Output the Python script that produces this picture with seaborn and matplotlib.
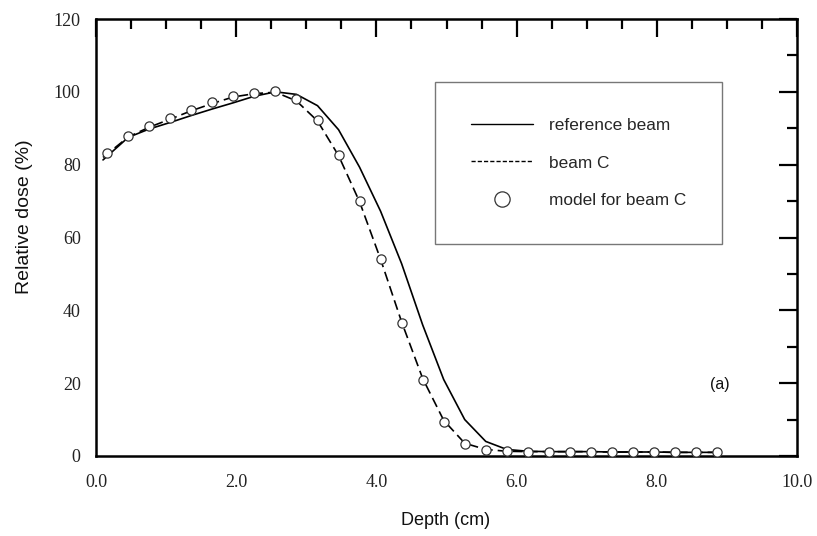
import matplotlib
matplotlib.use("Agg")
import matplotlib.pyplot as plt
from matplotlib.lines import Line2D
from matplotlib.ticker import MultipleLocator
import seaborn as sns
import pandas as pd

# ---- data ----
ref_depth = [0.10, 0.46, 0.76, 1.06, 1.36, 1.66, 1.96, 2.26, 2.56, 2.86, 3.16, 3.46,
             3.76, 4.06, 4.36, 4.66, 4.96, 5.26, 5.56, 5.86, 6.16, 6.46, 6.76, 7.06,
             7.36, 7.66, 7.96, 8.26, 8.56, 8.86]
ref_dose = [81.3, 87.5, 89.8, 91.6, 93.5, 95.3, 97.0, 98.8, 100.0, 99.3, 96.2, 89.6,
            79.3, 67.2, 52.8, 36.0, 21.0, 10.0, 4.0, 1.8, 1.3, 1.2, 1.2, 1.2,
            1.1, 1.1, 1.1, 1.0, 1.0, 1.0]

c_depth = [0.10, 0.46, 0.76, 1.06, 1.36, 1.66, 1.96, 2.26, 2.56, 2.86, 3.16, 3.46,
           3.76, 4.06, 4.36, 4.66, 4.96, 5.26, 5.56, 5.86, 6.16, 6.46, 6.76, 7.06,
           7.36, 7.66, 7.96, 8.26, 8.56, 8.86]
c_dose = [82.0, 87.6, 90.3, 92.5, 94.8, 96.8, 98.6, 99.5, 99.9, 97.5, 92.0, 82.5,
          69.8, 54.0, 36.8, 21.3, 9.8, 3.5, 1.8, 1.3, 1.2, 1.2, 1.2, 1.2,
          1.1, 1.1, 1.1, 1.0, 1.0, 1.0]

model_depth = [0.16, 0.46, 0.76, 1.06, 1.36, 1.66, 1.96, 2.26, 2.56, 2.86, 3.16, 3.46,
               3.76, 4.06, 4.36, 4.66, 4.96, 5.26, 5.56, 5.86, 6.16, 6.46, 6.76, 7.06,
               7.36, 7.66, 7.96, 8.26, 8.56, 8.86]
model_dose = [83.3, 87.9, 90.6, 92.7, 95.0, 97.1, 98.9, 99.7, 100.2, 98.1, 92.3, 82.7,
              70.1, 54.0, 36.5, 20.9, 9.4, 3.2, 1.6, 1.3, 1.2, 1.2, 1.2, 1.2,
              1.1, 1.1, 1.1, 1.0, 1.0, 1.0]

labels = ["reference beam", "beam C", "model for beam C"]
x_ticks = [0.0, 2.0, 4.0, 6.0, 8.0, 10.0]
y_ticks = [0, 20, 40, 60, 80, 100, 120]

ref_df = pd.DataFrame({"depth": ref_depth, "dose": ref_dose})
c_df = pd.DataFrame({"depth": c_depth, "dose": c_dose})
m_df = pd.DataFrame({"depth": model_depth, "dose": model_dose})

sns.set_theme(style="white")
plt.rcParams["font.family"] = ["Liberation Sans", "DejaVu Sans"]

fig = plt.figure(figsize=(8.17, 5.36), dpi=100)
ax = fig.add_axes([96 / 817, 1 - 456 / 536, 701 / 817, 437 / 536])

sns.lineplot(data=ref_df, x="depth", y="dose", ax=ax, color="black", lw=1.2,
             estimator=None, sort=False)
sns.lineplot(data=c_df, x="depth", y="dose", ax=ax, color="black", lw=1.2,
             linestyle=(0, (6, 3)), estimator=None, sort=False)
sns.scatterplot(data=m_df, x="depth", y="dose", ax=ax, marker="o", s=44,
                facecolor="white", edgecolor="#333333", linewidth=0.9, zorder=5)

ax.set_xlim(0, 10)
ax.set_ylim(0, 120)
ax.set_xticks(x_ticks)
ax.set_xticklabels([f"{v:.1f}" for v in x_ticks])
ax.set_yticks(y_ticks)
ax.set_yticklabels([str(v) for v in y_ticks])
ax.xaxis.set_minor_locator(MultipleLocator(0.5))
ax.yaxis.set_minor_locator(MultipleLocator(10))

ax.tick_params(which="both", direction="in", top=True, right=True, width=1.6,
               color="black")
ax.tick_params(which="major", length=13)
ax.tick_params(axis="y", which="major", pad=11)
ax.tick_params(axis="x", which="major", pad=13)
ax.tick_params(which="minor", length=7)
for lab in ax.get_xticklabels() + ax.get_yticklabels():
    lab.set_family(["Liberation Serif", "DejaVu Serif"])
    lab.set_fontsize(13)
    lab.set_color("#222222")

for sp in ax.spines.values():
    sp.set_visible(True)
    sp.set_color("black")
    sp.set_linewidth(1.8)

ax.set_xlabel("Depth (cm)", fontsize=13, color="#111111")
ax.set_ylabel("Relative dose (%)", fontsize=14, color="#111111")
ax.xaxis.set_label_coords(0.499, (456 - 512) / 437)
ax.yaxis.set_label_coords((33 - 96) / 701, (456 - 217) / 437)

ax.text(8.9, 19.5, "(a)", fontsize=11.5, ha="center", va="center", color="#111111")

handles = [
    Line2D([], [], color="black", lw=1.0),
    Line2D([], [], color="black", lw=1.0, linestyle=(0, (3, 1.5))),
    Line2D([], [], marker="o", ls="none", markersize=11, markerfacecolor="white",
           markeredgecolor="#333333", markeredgewidth=0.9),
]
leg = ax.legend(handles, labels, loc="upper left", bbox_to_anchor=(0.484, 0.855),
                frameon=True, fancybox=False, fontsize=12.4, handlelength=3.6,
                handletextpad=0.95, labelspacing=1.32, borderpad=2.05,
                borderaxespad=0)
leg.get_frame().set_edgecolor("#555555")
leg.get_frame().set_linewidth(1.0)

fig.savefig("out.png", dpi=100)
